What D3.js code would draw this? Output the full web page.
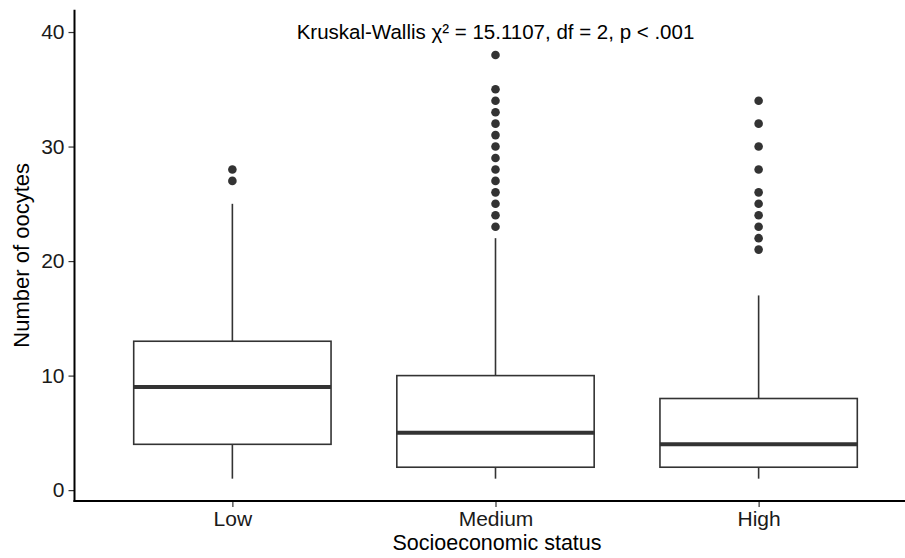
<!DOCTYPE html>
<html>
<head>
<meta charset="utf-8">
<script src="https://cdn.jsdelivr.net/npm/d3@7"></script>
<style>
  html, body { margin: 0; padding: 0; background: #fff; }
  svg { display: block; font-family: "Liberation Sans", Arial, Helvetica, sans-serif; }
</style>
</head>
<body>
<svg id="chart" width="905" height="558"></svg>
<script>
// Oocyte counts by socioeconomic status: boxplot summaries
const categories = ["Low", "Medium", "High"];
const whiskerLow = [1, 1, 1];
const q1 = [4, 2, 2];
const medians = [9, 5, 4];
const q3 = [13, 10, 8];
const whiskerHigh = [25, 22, 17];
const outliersLow = [27, 28];
const outliersMedium = [23, 24, 25, 26, 27, 28, 29, 30, 31, 32, 33, 34, 35, 38];
const outliersHigh = [21, 22, 23, 24, 25, 26, 28, 30, 32, 34];
const outliers = [outliersLow, outliersMedium, outliersHigh];
const yTicks = [0, 10, 20, 30, 40];
const annotation = "Kruskal-Wallis χ² = 15.1107, df = 2, p < .001";
const annotationAt = { category: "Medium", value: 40 };

const svg = d3.select("#chart");
const panel = { left: 74.5, right: 916.5, top: 9.7, bottom: 501 };

const x = d3.scalePoint()
  .domain(categories)
  .range([panel.left, panel.right])
  .padding(0.6);

const y = d3.scaleLinear()
  .domain([-0.95, 41.95])
  .range([panel.bottom, panel.top]);

const boxW = x.step() * 0.75;
const ink = "#333333";

const groups = categories.map((c, i) => ({
  cat: c, lo: whiskerLow[i], q1: q1[i], med: medians[i], q3: q3[i], hi: whiskerHigh[i], out: outliers[i]
}));

const g = svg.append("g");

// whiskers
g.selectAll(".whisker-up").data(groups).join("line")
  .attr("x1", d => x(d.cat)).attr("x2", d => x(d.cat))
  .attr("y1", d => y(d.q3)).attr("y2", d => y(d.hi))
  .attr("stroke", ink).attr("stroke-width", 1.6);
g.selectAll(".whisker-down").data(groups).join("line")
  .attr("x1", d => x(d.cat)).attr("x2", d => x(d.cat))
  .attr("y1", d => y(d.q1)).attr("y2", d => y(d.lo))
  .attr("stroke", ink).attr("stroke-width", 1.6);

// boxes
g.selectAll(".box").data(groups).join("rect")
  .attr("x", d => x(d.cat) - boxW / 2)
  .attr("width", boxW)
  .attr("y", d => y(d.q3))
  .attr("height", d => y(d.q1) - y(d.q3))
  .attr("fill", "#fff").attr("stroke", ink).attr("stroke-width", 1.6);

// medians
g.selectAll(".median").data(groups).join("line")
  .attr("x1", d => x(d.cat) - boxW / 2).attr("x2", d => x(d.cat) + boxW / 2)
  .attr("y1", d => y(d.med)).attr("y2", d => y(d.med))
  .attr("stroke", ink).attr("stroke-width", 4);

// outliers
g.selectAll(".outlier").data(groups.flatMap(d => d.out.map(v => ({ cat: d.cat, v }))))
  .join("circle")
  .attr("cx", d => x(d.cat)).attr("cy", d => y(d.v))
  .attr("r", 4.3).attr("fill", ink);

// annotation
svg.append("text")
  .attr("x", x(annotationAt.category))
  .attr("y", y(annotationAt.value))
  .attr("dy", "0.35em")
  .attr("text-anchor", "middle")
  .attr("font-size", 20.5)
  .attr("fill", "#000")
  .text(annotation);

// axes
const yAxis = d3.axisLeft(y).tickValues(yTicks).tickSize(6).tickPadding(4);
const yG = svg.append("g").attr("transform", `translate(${panel.left},0)`).call(yAxis);
const xAxis = d3.axisBottom(x).tickSize(6).tickPadding(4);
const xG = svg.append("g").attr("transform", `translate(0,${panel.bottom})`).call(xAxis);

[yG, xG].forEach(a => {
  a.select(".domain").remove();
  a.selectAll(".tick line").attr("stroke", ink).attr("stroke-width", 1.2);
  a.selectAll(".tick text").attr("font-size", 21).attr("fill", "#1a1a1a")
    .attr("font-family", "'Liberation Sans', Arial, sans-serif");
});

// axis lines
svg.append("line").attr("x1", panel.left).attr("x2", panel.left)
  .attr("y1", panel.top).attr("y2", panel.bottom + 1)
  .attr("stroke", "#000").attr("stroke-width", 2);
svg.append("line").attr("x1", panel.left - 1).attr("x2", 905)
  .attr("y1", panel.bottom).attr("y2", panel.bottom)
  .attr("stroke", "#000").attr("stroke-width", 2);

// axis titles
svg.append("text")
  .attr("x", 497).attr("y", 550)
  .attr("text-anchor", "middle")
  .attr("font-size", 21.5).attr("fill", "#000")
  .text("Socioeconomic status");
svg.append("text")
  .attr("transform", `translate(29,${(panel.top + panel.bottom) / 2}) rotate(-90)`)
  .attr("text-anchor", "middle")
  .attr("font-size", 22).attr("fill", "#000")
  .text("Number of oocytes");
</script>
</body>
</html>
